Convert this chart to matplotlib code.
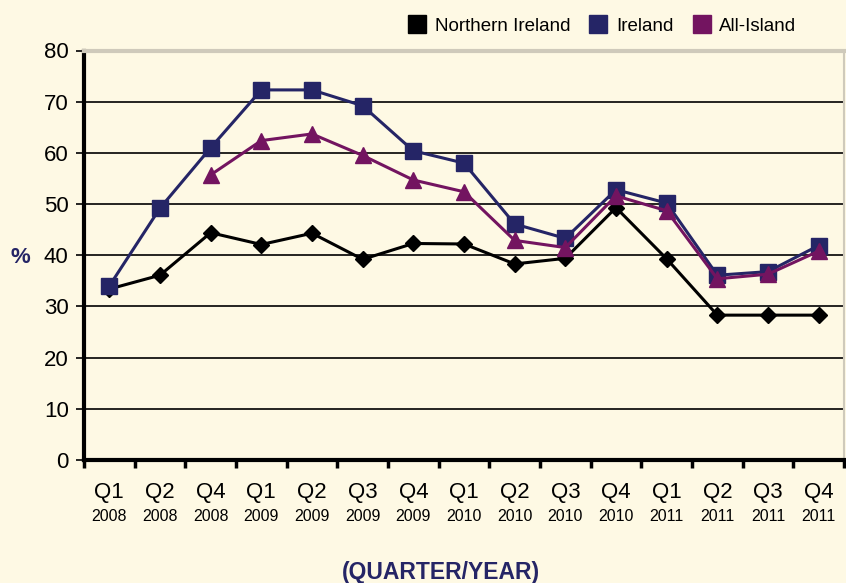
import matplotlib
matplotlib.use("Agg")
import matplotlib.pyplot as plt
from matplotlib.lines import Line2D
import numpy as np

plt.rcParams['font.family'] = ['Liberation Sans', 'DejaVu Sans']

quarters = ["Q1", "Q2", "Q4", "Q1", "Q2", "Q3", "Q4", "Q1", "Q2", "Q3", "Q4", "Q1", "Q2", "Q3", "Q4"]
years = ["2008", "2008", "2008", "2009", "2009", "2009", "2009", "2010", "2010", "2010", "2010",
         "2011", "2011", "2011", "2011"]
northern_ireland = [33.4, 36.1, 44.4, 42.1, 44.3, 39.2, 42.3, 42.2, 38.3, 39.4, 49.3, 39.3, 28.3, 28.3, 28.3]
ireland = [34.0, 49.2, 61.0, 72.3, 72.3, 69.2, 60.4, 58.0, 46.1, 43.3, 52.8, 50.2, 36.1, 36.8, 41.9]
all_island = [None, None, 55.7, 62.4, 63.7, 59.5, 54.7, 52.4, 42.9, 41.5, 51.6, 48.7, 35.4, 36.3, 40.8]

bg = "#fef9e4"
c_ni = "#000000"
c_ie = "#252566"
c_ai = "#731460"
navy = "#252566"

fig = plt.figure(figsize=(8.46, 5.83), dpi=100, facecolor=bg)
ax = fig.add_axes([84/846, 123/583, 760/846, 409.5/583], facecolor=bg)

x = np.arange(len(quarters))
ai = np.array([np.nan if v is None else v for v in all_island], dtype=float)

ax.plot(x, ireland, color=c_ie, lw=2.2, marker="s", ms=11.5, zorder=4)
ax.plot(x, ai, color=c_ai, lw=2.2, marker="^", ms=11, zorder=5)
ax.plot(x, northern_ireland, color=c_ni, lw=2.2, marker="D", ms=8.5, zorder=3)

ax.set_xlim(-0.5, len(quarters) - 0.5)
ax.set_ylim(0, 80)
ax.set_yticks(np.arange(0, 81, 10))
ax.yaxis.grid(True, color="black", lw=1.2)
ax.set_axisbelow(True)

ax.set_xticks(x)
ax.set_xticklabels(quarters, fontsize=16)
ax.tick_params(axis="x", which="major", length=0, pad=16)
ax.set_xticks(np.arange(-0.5, len(quarters), 1), minor=True)
ax.tick_params(axis="x", which="minor", length=6, width=2.5, color="black", direction="out")
ax.tick_params(axis="y", labelsize=16, length=6, width=1.2, pad=5)

trans = ax.get_xaxis_transform()
for xi, yr in zip(x, years):
    ax.text(xi, -0.139, yr, transform=trans, ha="center", va="center", fontsize=11.5)

for s in ["left", "bottom"]:
    ax.spines[s].set_linewidth(3)
    ax.spines[s].set_color("black")
ax.spines["top"].set_color("#cfcabb")
ax.spines["top"].set_linewidth(3)
ax.spines["right"].set_color("#cfcabb")
ax.spines["right"].set_linewidth(1.5)

fig.text(20/846, 1 - 258/583, "%", fontsize=16, fontweight="bold", color=navy,
         ha="center", va="center")
fig.text(441/846, 1 - 572/583, "(QUARTER/YEAR)", fontsize=16.5, fontweight="bold", color=navy,
         ha="center", va="center")

handles = [Line2D([], [], color=c, marker="s", ms=13, lw=0) for c in (c_ni, c_ie, c_ai)]
fig.legend(handles, ["Northern Ireland", "Ireland", "All-Island"], loc="center",
           bbox_to_anchor=(601/846, 1 - 26/583), ncol=3, frameon=False, fontsize=13.5,
           handletextpad=0.35, columnspacing=0.9, handlelength=1.2)

fig.savefig("out.png", dpi=100, facecolor=bg)
